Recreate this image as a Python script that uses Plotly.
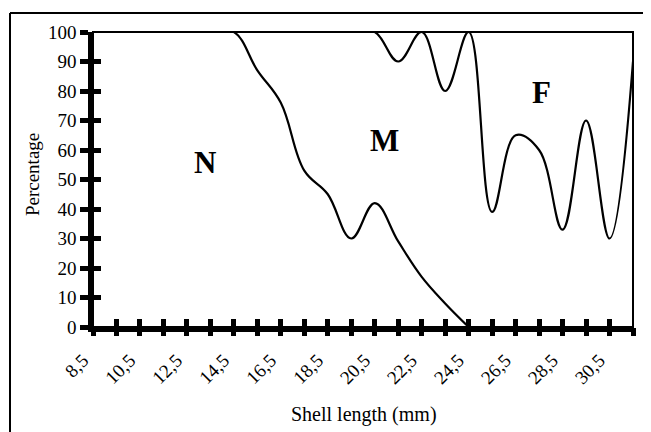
import plotly.graph_objects as go

# Shell length classes (mm)
categories = [8.5, 9.5, 10.5, 11.5, 12.5, 13.5, 14.5, 15.5, 16.5, 17.5, 18.5, 19.5,
              20.5, 21.5, 22.5, 23.5, 24.5, 25.5, 26.5, 27.5, 28.5, 29.5, 30.5, 31.5]
tick_labels = ["8,5", "", "10,5", "", "12,5", "", "14,5", "", "16,5", "", "18,5", "",
               "20,5", "", "22,5", "", "24,5", "", "26,5", "", "28,5", "", "30,5", ""]

# Boundary N / M (cumulative percentage)
nm_boundary = [100, 100, 100, 100, 100, 100, 100, 87, 76, 53, 45, 30,
               42, 29, 17, 8, 0, None, None, None, None, None, None, None]
# Boundary M / F (cumulative percentage)
mf_boundary = [100, 100, 100, 100, 100, 100, 100, 100, 100, 100, 100, 100,
               100, 90, 100, 80, 100, 39, 65, 60, 33, 70, 30, 90]

y_ticks = [0, 10, 20, 30, 40, 50, 60, 70, 80, 90, 100]

region_labels = ["N", "M", "F"]
region_x = [13.27, 20.91, 27.62]
region_y = [55.9, 63.2, 79.5]

FONT = "Liberation Serif"
PAD = "\u00a0\u00a0\u00a0"

fig = go.Figure()
fig.add_trace(go.Scatter(x=categories, y=nm_boundary, mode="lines",
                         line=dict(color="black", width=2.2, shape="spline", smoothing=1.1),
                         connectgaps=False, cliponaxis=False, showlegend=False, hoverinfo="skip"))
fig.add_trace(go.Scatter(x=categories, y=mf_boundary, mode="lines", xaxis="x2", yaxis="y2",
                         line=dict(color="black", width=2.2, shape="spline", smoothing=1.1),
                         cliponaxis=False, showlegend=False, hoverinfo="skip"))

fig.update_layout(
    width=651, height=432,
    margin=dict(l=85, r=26, t=24, b=113),
    paper_bgcolor="white", plot_bgcolor="white",
    font=dict(family=FONT, size=19, color="black"),
    xaxis=dict(range=[8.5, 31.5], tickmode="array", tickvals=categories,
               ticktext=[(t + PAD) if t else "" for t in tick_labels],
               tickangle=-45, showline=True, linewidth=4.5, linecolor="black",
               showgrid=False, zeroline=False,
               ticks="inside", ticklen=8, tickwidth=4.5, tickcolor="black",
               tickfont=dict(family=FONT, size=19)),
    yaxis=dict(range=[0, 100], tickmode="array", tickvals=y_ticks,
               ticktext=[str(v) for v in y_ticks],
               showline=True, linewidth=4.5, linecolor="black",
               showgrid=False, zeroline=False,
               ticks="outside", ticklen=8, tickwidth=4.5, tickcolor="black",
               tickfont=dict(family=FONT, size=19)),
    xaxis2=dict(range=[8.5, 31.5], overlaying="x", anchor="y2", side="bottom",
                tickmode="array", tickvals=categories, showticklabels=False,
                showgrid=False, zeroline=False, showline=False,
                ticks="outside", ticklen=8, tickwidth=4.5, tickcolor="black"),
    yaxis2=dict(range=[0, 100], overlaying="y", anchor="x2", side="left",
                tickmode="array", tickvals=y_ticks, showticklabels=False,
                showgrid=False, zeroline=False, showline=False,
                ticks="inside", ticklen=8, tickwidth=4.5, tickcolor="black"),
)

# plot area frame (thin)
fig.add_shape(type="rect", xref="paper", yref="paper", x0=0, y0=0, x1=1, y1=1,
              line=dict(color="black", width=2), layer="below")
# outer chart border (left and top visible)
fig.add_shape(type="line", xref="paper", yref="paper", x0=-0.1537, x1=-0.1537, y0=-0.45, y1=1.0644,
              line=dict(color="black", width=2))
fig.add_shape(type="line", xref="paper", yref="paper", x0=-0.1537, x1=1.1, y0=1.0644, y1=1.0644,
              line=dict(color="black", width=2))

for t, x, y in zip(region_labels, region_x, region_y):
    fig.add_annotation(x=x, y=y, xref="x", yref="y", text="<b>%s</b>" % t, showarrow=False,
                       xanchor="center", yanchor="middle",
                       font=dict(family=FONT, size=31, color="black"))

fig.add_annotation(x=(363.5 - 93) / 540, y=(327 - 414) / 295, xref="paper", yref="paper",
                   text="Shell length (mm)", showarrow=False, xanchor="center", yanchor="middle",
                   font=dict(family=FONT, size=20, color="black"))
fig.add_annotation(x=(32 - 93) / 540, y=0.515, xref="paper", yref="paper",
                   text="Percentage", showarrow=False, textangle=-90,
                   xanchor="center", yanchor="middle",
                   font=dict(family=FONT, size=19, color="black"))

fig.write_html("out.html")
